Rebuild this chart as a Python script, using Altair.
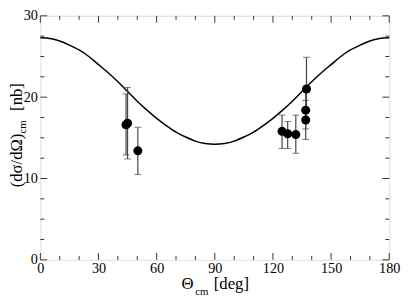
import altair as alt
import pandas as pd

# ---- data ----
theta = [44.2, 45.0, 50.3, 124.7, 127.6, 131.8, 136.9, 136.9, 137.3]
xsec = [16.6, 16.8, 13.4, 15.8, 15.5, 15.4, 18.4, 17.2, 21.0]
err_lo = [12.9, 12.4, 10.5, 13.7, 13.7, 13.1, 16.1, 14.8, 17.1]
err_hi = [20.4, 21.2, 16.3, 17.8, 17.0, 17.8, 20.7, 19.6, 24.9]

curve_theta = [0, 5, 10, 15, 20, 25, 30, 35, 40, 45, 50, 55, 60, 65, 70, 75, 80, 85, 90,
               95, 100, 105, 110, 115, 120, 125, 130, 135, 140, 145, 150, 155, 160, 165, 170, 175, 180]
curve_val = [27.3, 27.2, 26.9, 26.4, 25.8, 25.0, 24.0, 23.0, 21.9, 20.7, 19.5, 18.4, 17.4, 16.5,
             15.7, 15.1, 14.6, 14.3, 14.2,
             14.3, 14.6, 15.1, 15.7, 16.5, 17.4, 18.4, 19.5, 20.7, 21.9, 23.0, 24.0, 25.0, 25.8,
             26.4, 26.9, 27.2, 27.3]

x_major = [0, 30, 60, 90, 120, 150, 180]
x_minor = [10, 20, 40, 50, 70, 80, 100, 110, 130, 140, 160, 170]
y_major = [0, 10, 20, 30]
y_minor = [2.5, 5, 7.5, 12.5, 15, 17.5, 22.5, 25, 27.5]

W, H = 356, 249
FONT = "Liberation Serif"

pts = pd.DataFrame({"theta": theta, "xs": xsec, "lo": err_lo, "hi": err_hi})
curve = pd.DataFrame({"theta": curve_theta, "val": curve_val})

xscale = alt.Scale(domain=[0, 180], nice=False, zero=False)
yscale = alt.Scale(domain=[0, 30], nice=False, zero=False)

xaxis = alt.Axis(values=x_major, grid=False, ticks=False, domain=False, title=None,
                 labelFont=FONT, labelFontSize=14.5, labelColor="black", labelPadding=2,
                 labelFlush=False, labelOverlap=False)
yaxis = alt.Axis(values=y_major, grid=False, ticks=False, domain=False, title=None,
                 labelFont=FONT, labelFontSize=14.5, labelColor="black", labelPadding=3,
                 labelFlush=False, labelOverlap=False)

line = alt.Chart(curve).mark_line(color="black", strokeWidth=1.5, interpolate="monotone").encode(
    x=alt.X("theta:Q", scale=xscale, axis=xaxis),
    y=alt.Y("val:Q", scale=yscale, axis=yaxis),
)

bars = alt.Chart(pts).mark_rule(color="#444444", strokeWidth=1.2).encode(
    x=alt.X("theta:Q", scale=xscale), y=alt.Y("lo:Q", scale=yscale), y2="hi:Q")
cap_lo = alt.Chart(pts).mark_tick(color="#444444", thickness=1, size=7, orient="horizontal").encode(
    x=alt.X("theta:Q", scale=xscale), y=alt.Y("lo:Q", scale=yscale))
cap_hi = alt.Chart(pts).mark_tick(color="#444444", thickness=1, size=7, orient="horizontal").encode(
    x=alt.X("theta:Q", scale=xscale), y=alt.Y("hi:Q", scale=yscale))
dots = alt.Chart(pts).mark_circle(color="black", opacity=1, size=85).encode(
    x=alt.X("theta:Q", scale=xscale), y=alt.Y("xs:Q", scale=yscale))

def xticks(vals, length):
    df = pd.DataFrame({"v": vals})
    b = alt.Chart(df).mark_rule(color="#333333", strokeWidth=1).encode(
        x=alt.X("v:Q", scale=xscale), y=alt.value(H), y2=alt.value(H - length))
    t = alt.Chart(df).mark_rule(color="#333333", strokeWidth=1).encode(
        x=alt.X("v:Q", scale=xscale), y=alt.value(0), y2=alt.value(length))
    return [b, t]

def yticks(vals, length):
    df = pd.DataFrame({"v": vals})
    l = alt.Chart(df).mark_rule(color="#333333", strokeWidth=1).encode(
        y=alt.Y("v:Q", scale=yscale), x=alt.value(0), x2=alt.value(length))
    r = alt.Chart(df).mark_rule(color="#333333", strokeWidth=1).encode(
        y=alt.Y("v:Q", scale=yscale), x=alt.value(W), x2=alt.value(W - length))
    return [l, r]

ticks = xticks(x_major, 7) + xticks(x_minor, 4) + yticks(y_major, 7) + yticks(y_minor, 4)

one = pd.DataFrame({"a": [0]})

def label(txt, x, y, size, angle=0):
    return alt.Chart(one).mark_text(text=txt, font=FONT, fontSize=size, color="black",
                                    align="left", baseline="alphabetic", angle=angle).encode(
        x=alt.value(x), y=alt.value(y))

titles = [
    label("Θ", 144, H + 30, 17),
    label("cm", 158, H + 36, 11),
    label("[deg]", 177, H + 30, 17),
    label("(dσ/dΩ)", -19, 175, 17, 270),
    label("cm", -15, 120, 11, 270),
    label("[nb]", -19, 97, 17, 270),
]

chart = alt.layer(line, *ticks, bars, cap_lo, cap_hi, dots, *titles).properties(
    width=W, height=H,
    autosize=alt.AutoSizeParams(type="none"),
    padding={"left": 33, "top": 5, "right": 12, "bottom": 38},
).configure_view(stroke="#333333", strokeWidth=1.2).configure(background="white")

chart.save("out.html", embed_options={"renderer": "svg", "actions": False})
